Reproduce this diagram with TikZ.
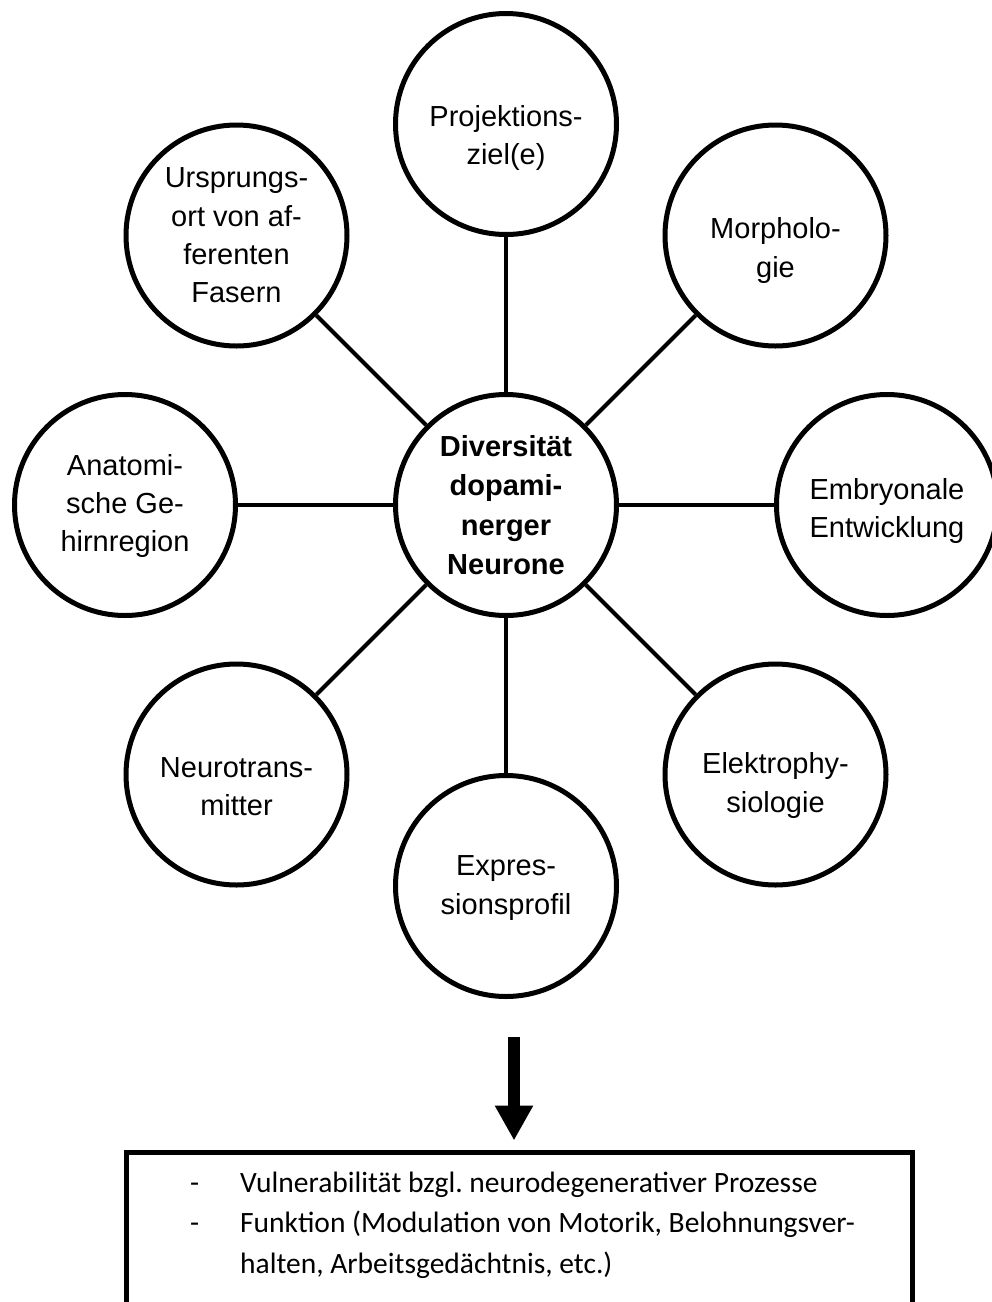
\documentclass[tikz,border=0pt]{standalone}
\usepackage{fontspec}
\setmainfont{Liberation Sans}
\newfontfamily\listfont{Carlito}
\usetikzlibrary{arrows.meta}

\tikzset{
  topic/.style={circle, draw, line width=5pt, minimum size=221pt, inner sep=0pt,
    align=center, font=\fontsize{29}{38.3}\selectfont},
  hub/.style={topic, font=\fontsize{29}{39.5}\selectfont\bfseries},
  spoke/.style={line width=4pt},
  flow/.style={line width=12pt, -{Triangle[width=36pt,length=35pt]}},
  panel/.style={draw, line width=5pt, inner sep=0pt},
  item/.style={anchor=base west, inner sep=0pt, font=\listfont\fontsize{29.5}{40}\selectfont}
}

\begin{document}
\frenchspacing
\begin{tikzpicture}[x=1pt,y=-1pt]
  \useasboundingbox (0,0) rectangle (992,1302);
  \clip (0,0) rectangle (992,1302);

  % hub and the eight aspects around it
  \node[hub] (hub) at (506,505) {Diversität\\dopami-\\nerger\\Neurone};
  \node[topic] (proj) at (506,124) {};
  \node[topic] (morph) at (775.5,235.5) {};
  \node[topic] (embryo) at (887,505) {};
  \node[topic] (ephys) at (775.5,774.5) {};
  \node[topic] (expr) at (506,886) {};
  \node[topic] (trans) at (236.5,774.5) {};
  \node[topic] (anat) at (125,505) {};
  \node[topic] (origin) at (236.5,235.5) {};

  % labels, each set slightly below its circle's centre as in the layout
  \node[align=center, inner sep=0pt, font=\fontsize{29}{38.3}\selectfont] (projtext) at ([yshift=-14pt]proj.center) {Projektions-\\ziel(e)};
  \node[align=center, inner sep=0pt, font=\fontsize{29}{38.3}\selectfont] (morphtext) at ([yshift=-15pt]morph.center) {Morpholo-\\gie};
  \node[align=center, inner sep=0pt, font=\fontsize{29}{38.3}\selectfont] (embryotext) at ([yshift=-6pt]embryo.center) {Embryonale\\Entwicklung};
  \node[align=center, inner sep=0pt, font=\fontsize{29}{38.3}\selectfont] (ephystext) at ([yshift=-11pt]ephys.center) {Elektrophy-\\siologie};
  \node[align=center, inner sep=0pt, font=\fontsize{29}{38.3}\selectfont] (exprtext) at ([yshift=-2pt]expr.center) {Expres-\\sionsprofil};
  \node[align=center, inner sep=0pt, font=\fontsize{29}{38.3}\selectfont] (transtext) at ([yshift=-12pt]trans.center) {Neurotrans-\\mitter};
  \node[align=center, inner sep=0pt, font=\fontsize{29}{38.3}\selectfont] (anattext) at ([yshift=-1pt]anat.center) {Anatomi-\\sche Ge-\\hirnregion};
  \node[align=center, inner sep=0pt, font=\fontsize{29}{38.3}\selectfont] (origintext) at (origin.center) {Ursprungs-\\ort von af-\\ferenten\\Fasern};

  \foreach \t in {proj,morph,embryo,ephys,expr,trans,anat,origin}
    \draw[spoke] (hub) -- (\t);

  % consequences
  \node[panel, minimum width=786pt, minimum height=220pt, anchor=north west] (outcome) at (124,1150) {};
  \coordinate (flowstart) at (514,1037);
  \draw[flow, shorten >=9.5pt] (flowstart) -- (flowstart |- outcome.north);

  \node[item] (dashA) at (190,1192) {-};
  \node[item] (lineA) at (240,1192) {Vulnerabilität bzgl. neurodegenerativer Prozesse};
  \node[item] (dashB) at (190,1232) {-};
  \node[item] (lineB) at (240,1232) {Funktion (Modulation von Motorik, Belohnungsver-};
  \node[item] (lineC) at (240,1273) {halten, Arbeitsgedächtnis, etc.)};
\end{tikzpicture}
\end{document}
